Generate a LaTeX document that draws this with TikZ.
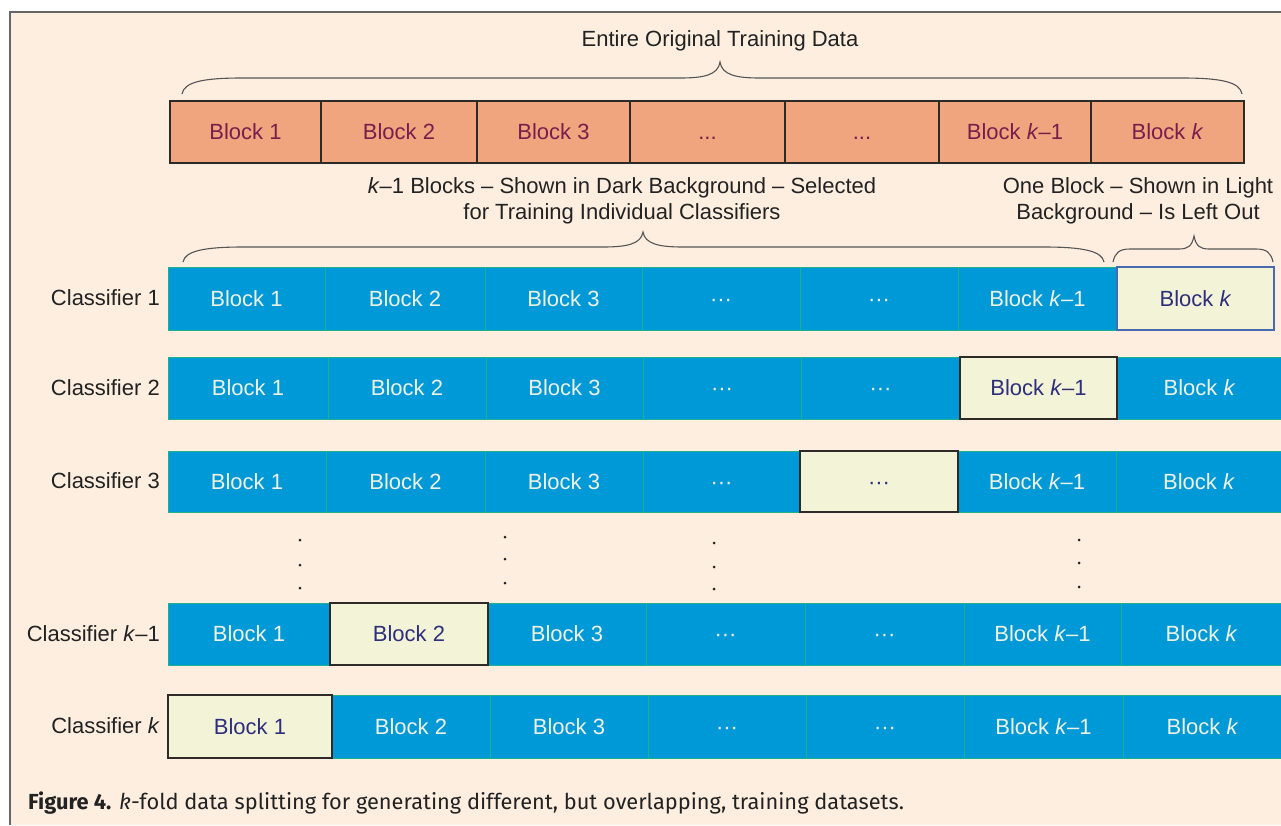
\documentclass[tikz,border=0pt]{standalone}
\usepackage{fontspec}
\setmainfont{Liberation Sans}
\newfontfamily\capfont{Fira Sans}
\definecolor{bg}{HTML}{FDEEE0}
\definecolor{frame}{HTML}{666666}
\definecolor{orng}{HTML}{F0A57E}
\definecolor{orngtxt}{HTML}{7A1D4C}
\definecolor{dark}{HTML}{2E2A28}
\definecolor{blu}{HTML}{0099D8}
\definecolor{sepg}{HTML}{1FB08E}
\definecolor{blutxt}{HTML}{EEF2E2}
\definecolor{lite}{HTML}{F3F3D7}
\definecolor{litetxt}{HTML}{2E2F7C}
\definecolor{litebord}{HTML}{4A6AB0}
\definecolor{txt}{HTML}{222222}
\definecolor{brc}{HTML}{555555}
\newcommand\mkblk[7]{\node[#6, minimum width={#3-#2}, minimum height={#5-#4}] (#1) at (#2,#4) {#7};}
\newcommand\hbr[7]{%
  \draw[brace line] (#1,#4) .. controls ({#1+2},{#4-(#4-#5)/2+4}) and ({#1+#6*0.35},{#4-(#4-#5)/2}) .. ({#1+#6},{#4-(#4-#5)/2})
  -- ({#3-#7},{#4-(#4-#5)/2}) .. controls ({#3-#7*0.4},{#4-(#4-#5)/2}) and ({#3-2},{#4-(#4-#5)/2-3}) .. (#3,#5)
  .. controls ({#3+2},{#4-(#4-#5)/2-3}) and ({#3+#7*0.4},{#4-(#4-#5)/2}) .. ({#3+#7},{#4-(#4-#5)/2})
  -- ({#2-#6},{#4-(#4-#5)/2}) .. controls ({#2-#6*0.35},{#4-(#4-#5)/2}) and ({#2-2},{#4-(#4-#5)/2+4}) .. (#2,#4);}
\newcommand\kk{\textit{k}}
\begin{document}
\begin{tikzpicture}[x=1pt,y=-1pt,
  blkbase/.style={inner sep=0pt, outer sep=0pt, anchor=north west, text height=15.8pt, text depth=0pt, font=\fontsize{22}{24}\selectfont},
  orngbox/.style={blkbase, fill=orng, draw=dark, line width=1.3pt, text=orngtxt},
  blubox/.style={blkbase, fill=blu, draw=sepg, line width=0.9pt, text=blutxt},
  litebox/.style={blkbase, fill=lite, draw=dark, line width=1.3pt, text=litetxt},
  litebbox/.style={litebox, draw=litebord},
  clabel/.style={anchor=east, inner sep=0pt, text=txt, font=\fontsize{22}{24}\selectfont},
  note/.style={align=center, inner sep=0pt, text=txt, font=\fontsize{22}{26}\selectfont},
  brace line/.style={draw=brc, line width=1.1pt},
  vdot/.style={fill=txt}]
\useasboundingbox (0,0) rectangle (1281,825);
\fill[white] (0,0) rectangle (1281,825);
\fill[bg] (10,12) rectangle (1281,825);
\draw[frame, line width=1.3pt] (10,825) -- (10,12) -- (1281,12);

% header
\node[note] (title) at (720,41) {Entire Original Training Data};
\hbr{182}{1242}{720}{94}{62}{60}{40}

% top row
\mkblk{t1}{170}{321}{101}{163}{orngbox}{Block 1}
\mkblk{t2}{321}{477}{101}{163}{orngbox}{Block 2}
\mkblk{t3}{477}{630}{101}{163}{orngbox}{Block 3}
\mkblk{t4}{630}{785}{101}{163}{orngbox}{...}
\mkblk{t5}{785}{939}{101}{163}{orngbox}{...}
\mkblk{t6}{939}{1091}{101}{163}{orngbox}{Block \kk–1}
\mkblk{t7}{1091}{1244}{101}{163}{orngbox}{Block \kk}

\node[note] (sel) at (622,201) {\kk–1 Blocks – Shown in Dark Background – Selected\\for Training Individual Classifiers};
\node[note] (left) at (1138,201) {One Block – Shown in Light\\Background – Is Left Out};
\hbr{183}{1104}{643}{262}{232}{60}{40}
\hbr{1113}{1273}{1194}{262}{236}{17}{15}

% classifier 1
\node[clabel] (l1) at (160,298) {Classifier 1};
\mkblk{a1}{168}{325}{267}{330}{blubox}{Block 1}
\mkblk{a2}{325}{485}{267}{330}{blubox}{Block 2}
\mkblk{a3}{485}{642}{267}{330}{blubox}{Block 3}
\mkblk{a4}{642}{800}{267}{330}{blubox}{···}
\mkblk{a5}{800}{958}{267}{330}{blubox}{···}
\mkblk{a6}{958}{1117}{267}{330}{blubox}{Block \kk–1}
\mkblk{a7}{1117}{1274}{267}{330}{litebbox}{Block \kk}

% classifier 2
\node[clabel] (l2) at (160,388) {Classifier 2};
\mkblk{b1}{168}{328}{357}{419}{blubox}{Block 1}
\mkblk{b2}{328}{486}{357}{419}{blubox}{Block 2}
\mkblk{b3}{486}{643}{357}{419}{blubox}{Block 3}
\mkblk{b4}{643}{801}{357}{419}{blubox}{···}
\mkblk{b5}{801}{960}{357}{419}{blubox}{···}
\mkblk{b7}{1117}{1282}{357}{419}{blubox}{Block \kk}
\mkblk{b6}{960}{1117}{357}{419}{litebox}{Block \kk–1}

% classifier 3
\node[clabel] (l3) at (160,481) {Classifier 3};
\mkblk{c1}{168}{326}{451}{512}{blubox}{Block 1}
\mkblk{c2}{326}{485}{451}{512}{blubox}{Block 2}
\mkblk{c3}{485}{643}{451}{512}{blubox}{Block 3}
\mkblk{c4}{643}{800}{451}{512}{blubox}{···}
\mkblk{c6}{958}{1116}{451}{512}{blubox}{Block \kk–1}
\mkblk{c7}{1116}{1282}{451}{512}{blubox}{Block \kk}
\mkblk{c5}{800}{958}{451}{512}{litebox}{···}

% vertical dots
\fill[vdot] (300,540) circle (1.5);
\fill[vdot] (300,565) circle (1.5);
\fill[vdot] (300,588) circle (1.5);
\fill[vdot] (505,537) circle (1.5);
\fill[vdot] (505,559) circle (1.5);
\fill[vdot] (505,583) circle (1.5);
\fill[vdot] (714,543) circle (1.5);
\fill[vdot] (714,567) circle (1.5);
\fill[vdot] (714,589) circle (1.5);
\fill[vdot] (1079,540) circle (1.5);
\fill[vdot] (1079,563) circle (1.5);
\fill[vdot] (1079,587) circle (1.5);

% classifier k-1
\node[clabel] (l4) at (160,634) {Classifier \kk–1};
\mkblk{d1}{168}{330}{603}{665}{blubox}{Block 1}
\mkblk{d3}{488}{646}{603}{665}{blubox}{Block 3}
\mkblk{d4}{646}{805}{603}{665}{blubox}{···}
\mkblk{d5}{805}{964}{603}{665}{blubox}{···}
\mkblk{d6}{964}{1121}{603}{665}{blubox}{Block \kk–1}
\mkblk{d7}{1121}{1282}{603}{665}{blubox}{Block \kk}
\mkblk{d2}{330}{488}{603}{665}{litebox}{Block 2}

% classifier k
\node[clabel] (l5) at (160,726) {Classifier \kk};
\mkblk{e2}{332}{490}{695}{758}{blubox}{Block 2}
\mkblk{e3}{490}{648}{695}{758}{blubox}{Block 3}
\mkblk{e4}{648}{806}{695}{758}{blubox}{···}
\mkblk{e5}{806}{964}{695}{758}{blubox}{···}
\mkblk{e6}{964}{1123}{695}{758}{blubox}{Block \kk–1}
\mkblk{e7}{1123}{1282}{695}{758}{blubox}{Block \kk}
\mkblk{e1}{168}{332}{695}{758}{litebox}{Block 1}

% caption
\node[anchor=west, inner sep=0pt, text=txt, font=\capfont\fontsize{21.8}{24}\selectfont] (cap) at (28,803)
  {\textbf{Figure 4.} \textit{k}-fold data splitting for generating different, but overlapping, training datasets.};
\end{tikzpicture}
\end{document}
